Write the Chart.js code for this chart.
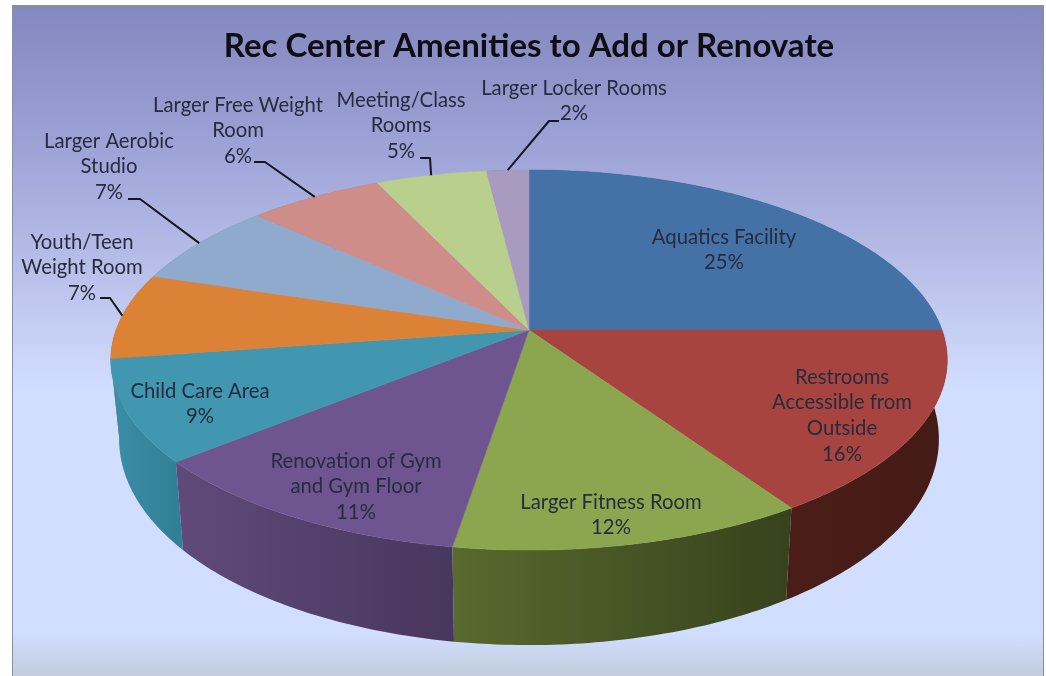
<!DOCTYPE html>
<html>
<head>
<meta charset="utf-8">
<title>Rec Center Amenities</title>
<script src="https://cdn.jsdelivr.net/npm/chart.js@4"></script>
<style>
  html, body { margin: 0; padding: 0; background: #fff; overflow: hidden; }
  #frame {
    position: absolute; left: 12px; top: 5px; width: 1032px; height: 671px;
    border-left: 1px solid #8a8fa6; border-top: 2px solid #8c8c94; border-right: 1px solid #8a8c9c;
    box-sizing: border-box;
    background: linear-gradient(to bottom, #8389c1 0, #8e92c8 60px, #a0a5d8 150px, #bcc4ec 280px,
      #d2deff 385px, #d2deff 625px, #c2cee0 665px);
  }
  #wrap { position: absolute; left: 0; top: 0; width: 1046px; height: 676px; }
</style>
</head>
<body>
<div id="frame"></div>
<div id="wrap"><canvas id="pie" width="1046" height="676"></canvas></div>
<script>
const titleText = 'Rec Center Amenities to Add or Renovate';
const categories = [
  ['Aquatics Facility'],
  ['Restrooms', 'Accessible from', 'Outside'],
  ['Larger Fitness Room'],
  ['Renovation of Gym', 'and Gym Floor'],
  ['Child Care Area'],
  ['Youth/Teen', 'Weight Room'],
  ['Larger Aerobic', 'Studio'],
  ['Larger Free Weight', 'Room'],
  ['Meeting/Class', 'Rooms'],
  ['Larger Locker Rooms']
];
const shares = [25, 15.7, 11.8, 11.45, 8.65, 7.3, 7.1, 6.1, 5, 1.9];
const topColors = ['#4472a6', '#a8443f', '#8ba64e', '#6f5590', '#4197b0', '#db8236', '#8faacc', '#cf8d8a', '#b8cf8e', '#a99abf'];
const sideLeft = ['#30557f', '#4a1d18', '#586a2e', '#604a7a', '#3a8ea6', '#a8632a', '#6b84a3', '#a06c6a', '#8da06c', '#80749a'];
const sideRight = ['#30557f', '#451b16', '#36421c', '#47365e', '#2f7f96', '#a8632a', '#6b84a3', '#a06c6a', '#8da06c', '#80749a'];

// label block centre (x, first line y), knee of the leader line (null = label sits on the slice)
const labelSpots = [[724, 237], [842, 377], [611, 502], [356, 461], [200, 391], [82, 242], [109, 141], [238, 105], [401, 100], [574, 88]];
const leaderKnees = [null, null, null, null, null,
  [[100, 298], [110, 298]], [[128, 199], [140, 199]], [[254, 162], [265, 162]], [[420, 158], [430, 158]], [[559, 121], [549, 121]]];

const lineGap = 25.7;
const labelFont = '20.3px Lato, "Open Sans", sans-serif';
const labelColor = '#262b3e';

// tilted disc: the circle is projected so the centre sits above the middle of the ellipse
const disc = { rx: 413, ry: 185.3, lean: 0.158, depth: 76, depthFront: 19, shrink: 0.98 };

function rimPoint(arc, angle) {
  const u = Math.cos(angle), v = Math.sin(angle);
  const w = 1 - disc.lean * v;
  return { x: arc.x + disc.rx * u / w, y: arc.y + disc.ry * v / w };
}
function floorPoint(arc, angle) {
  const p = rimPoint(arc, angle);
  return { x: arc.x + (p.x - arc.x) * disc.shrink, y: p.y + disc.depth + disc.depthFront * Math.sin(angle) };
}
function rimSamples(arc, fn) {
  const n = Math.max(2, Math.ceil((arc.endAngle - arc.startAngle) / 0.015));
  const pts = [];
  for (let i = 0; i <= n; i++) {
    pts.push(fn(arc, arc.startAngle + (arc.endAngle - arc.startAngle) * i / n));
  }
  return pts;
}

const tiltedPie = {
  id: 'tiltedPie',
  beforeDatasetsDraw(chart) {
    const ctx = chart.ctx;
    const arcs = chart.getDatasetMeta(0).data;
    const midV = a => Math.sin((a.startAngle + a.endAngle) / 2);
    const order = arcs.map((a, i) => i).sort((p, q) => midV(arcs[p]) - midV(arcs[q]));

    // sides first, back to front
    order.forEach(i => {
      const top = rimSamples(arcs[i], rimPoint);
      const bottom = rimSamples(arcs[i], floorPoint).reverse();
      const xs = top.concat(bottom).map(p => p.x);
      const grad = ctx.createLinearGradient(Math.min(...xs), 0, Math.max(...xs), 0);
      grad.addColorStop(0, sideLeft[i]);
      grad.addColorStop(1, sideRight[i]);
      ctx.beginPath();
      top.concat(bottom).forEach((p, k) => k ? ctx.lineTo(p.x, p.y) : ctx.moveTo(p.x, p.y));
      ctx.closePath();
      ctx.fillStyle = grad;
      ctx.fill();
    });

    // top faces
    arcs.forEach((arc, i) => {
      ctx.beginPath();
      ctx.moveTo(arc.x, arc.y);
      rimSamples(arc, rimPoint).forEach(p => ctx.lineTo(p.x, p.y));
      ctx.closePath();
      ctx.fillStyle = topColors[i];
      ctx.strokeStyle = topColors[i];
      ctx.lineWidth = 0.5;
      ctx.fill();
      ctx.stroke();
    });

    // leader lines
    ctx.strokeStyle = '#15171f';
    ctx.lineWidth = 2;
    ctx.lineJoin = 'round';
    arcs.forEach((arc, i) => {
      if (!leaderKnees[i]) return;
      const end = rimPoint(arc, (arc.startAngle + arc.endAngle) / 2);
      ctx.beginPath();
      ctx.moveTo(leaderKnees[i][0][0], leaderKnees[i][0][1]);
      ctx.lineTo(leaderKnees[i][1][0], leaderKnees[i][1][1]);
      ctx.lineTo(end.x, end.y);
      ctx.stroke();
    });

    // slice labels
    ctx.font = labelFont;
    ctx.fillStyle = labelColor;
    ctx.textAlign = 'center';
    ctx.textBaseline = 'middle';
    categories.forEach((lines, i) => {
      const rows = lines.concat(Math.round(shares[i]) + '%');
      rows.forEach((row, k) => {
        ctx.fillText(row, labelSpots[i][0], labelSpots[i][1] + k * lineGap);
      });
    });
    return false;
  }
};

new Chart(document.getElementById('pie'), {
  type: 'pie',
  data: {
    labels: categories,
    datasets: [{ data: shares, backgroundColor: topColors, borderWidth: 0 }]
  },
  options: {
    responsive: false,
    animation: false,
    layout: { padding: { left: 12, top: 5, right: 0, bottom: 82.6 } },
    plugins: {
      legend: { display: false },
      tooltip: { enabled: false },
      title: {
        display: true,
        text: titleText,
        color: '#0d0d12',
        font: { family: 'Lato, "Open Sans", sans-serif', size: 33, weight: 'bold', lineHeight: 1.2 },
        padding: { top: 22, bottom: 0 }
      }
    }
  },
  plugins: [tiltedPie]
});
</script>
</body>
</html>
